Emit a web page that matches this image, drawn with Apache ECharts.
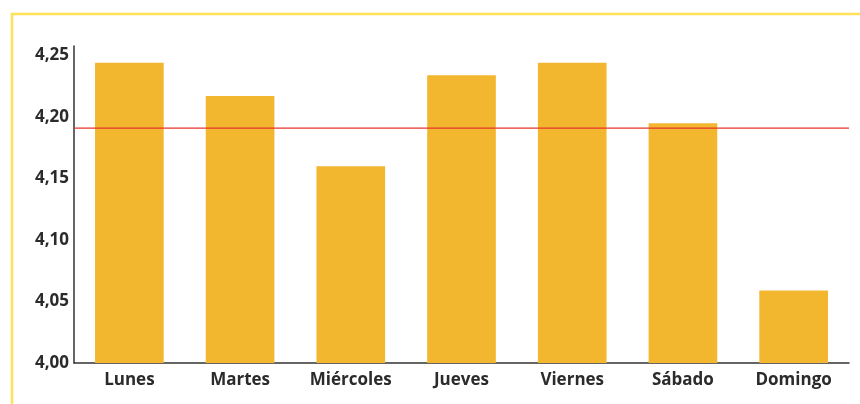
<!DOCTYPE html>
<html>
<head>
<meta charset="utf-8">
<script src="https://cdn.jsdelivr.net/npm/echarts@6/dist/echarts.min.js"></script>
<style>
  html, body { margin: 0; padding: 0; background: #fff; }
  #chart { width: 860px; height: 404px; }
</style>
</head>
<body>
<div id="chart"></div>
<script>
// Valoración media por día de la semana
const dias = ['Lunes', 'Martes', 'Miércoles', 'Jueves', 'Viernes', 'Sábado', 'Domingo'];
const valoraciones = [4.244, 4.217, 4.160, 4.234, 4.244, 4.195, 4.059];
const mediaSemanal = 4.191;
const ejeMin = 4.00;
const ejeMax = 4.2577;
const ejeIntervalo = 0.05;

const fuente = '"Open Sans", "Liberation Sans", sans-serif';
const rojoMedia = '#E8352B';

const chart = echarts.init(document.getElementById('chart'), null, { renderer: 'canvas' });

chart.setOption({
  animation: false,
  backgroundColor: '#ffffff',
  graphic: [
    {
      type: 'rect',
      shape: { x: 12, y: 14, width: 900, height: 500 },
      style: { fill: 'none', stroke: '#FFE15A', lineWidth: 2.5 },
      silent: true
    }
  ],
  grid: { left: 74, top: 46, width: 775, bottom: 41, containLabel: false },
  xAxis: [
    {
      type: 'category',
      data: dias,
      axisLine: { lineStyle: { color: '#333333', width: 1.5 } },
      axisTick: { show: false },
      axisLabel: {
        color: '#2b2b2b',
        fontFamily: fuente,
        fontWeight: 'bold',
        fontSize: 17,
        margin: 9
      }
    },
    {
      // eje auxiliar 0..1 para trazar la media a todo lo ancho
      type: 'value',
      min: 0,
      max: 1,
      show: false
    }
  ],
  yAxis: {
    type: 'value',
    min: ejeMin,
    max: ejeMax,
    interval: ejeIntervalo,
    axisLine: { show: true, lineStyle: { color: '#333333', width: 1.5 } },
    axisTick: { show: false },
    splitLine: { show: false },
    axisLabel: {
      color: '#2b2b2b',
      fontFamily: fuente,
      fontWeight: 'bold',
      fontSize: 17,
      margin: 5,
      showMaxLabel: false,
      formatter: v => v.toFixed(2).replace('.', ',')
    }
  },
  series: [
    {
      type: 'bar',
      xAxisIndex: 0,
      data: valoraciones,
      barWidth: '62%',
      itemStyle: { color: '#F3B62F' },
      z: 2
    },
    {
      type: 'line',
      xAxisIndex: 1,
      data: [[0, mediaSemanal], [1, mediaSemanal]],
      symbol: 'none',
      silent: true,
      lineStyle: { color: rojoMedia, width: 1.3 },
      z: 3
    }
  ]
});
</script>
</body>
</html>
